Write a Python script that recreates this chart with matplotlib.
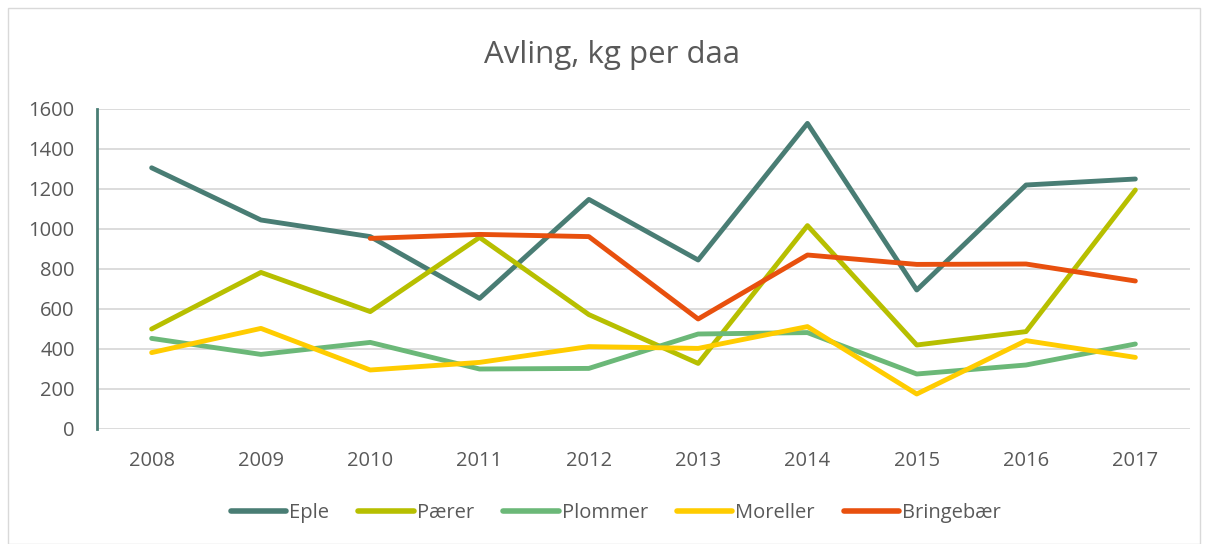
import matplotlib
matplotlib.use("Agg")
import matplotlib.pyplot as plt
import numpy as np

years = ["2008", "2009", "2010", "2011", "2012", "2013", "2014", "2015", "2016", "2017"]
eple = [1306, 1045, 962, 653, 1148, 845, 1528, 695, 1220, 1250]
paerer = [500, 783, 587, 958, 572, 328, 1017, 420, 487, 1195]
plommer = [453, 373, 433, 300, 303, 475, 482, 275, 320, 425]
moreller = [382, 503, 295, 333, 412, 403, 512, 175, 442, 358]
bringebaer = [None, None, 953, 973, 962, 550, 870, 823, 825, 740]
series_names = ["Eple", "Pærer", "Plommer", "Moreller", "Bringebær"]
yticks = [0, 200, 400, 600, 800, 1000, 1200, 1400, 1600]

colors = ["#497D74", "#B7BF00", "#6BB878", "#FFCC00", "#E8500E"]
txt = "#595959"
plt.rcParams['font.family'] = ['Open Sans', 'DejaVu Sans']

W, H = 1208, 544
fig = plt.figure(figsize=(W / 100, H / 100), dpi=100)
# outer chart border
fig.patches.append(plt.Rectangle((8 / W, 0), (1200 - 8) / W, (544 - 8) / H, transform=fig.transFigure,
                                 fill=False, edgecolor="#d9d9d9", linewidth=1))

left, right, top, bottom = 97, 1190, 109, 429
ax = fig.add_axes([left / W, 1 - bottom / H, (right - left) / W, (bottom - top) / H])
x = np.arange(len(years))
data = [eple, paerer, plommer, moreller, bringebaer]
for name, vals, c in zip(series_names, data, colors):
    v = np.array([np.nan if d is None else d for d in vals], dtype=float)
    ax.plot(x, v, color=c, lw=3.5, label=name, solid_capstyle='round', solid_joinstyle='round', zorder=3)

ax.set_xlim(-0.5, len(years) - 0.5)
ax.set_ylim(0, 1600)
ax.set_yticks(yticks)
ax.set_xticks(x)
ax.set_xticklabels(years)
ax.grid(axis='y', color="#d9d9d9", lw=1.3, zorder=0)
ax.set_axisbelow(True)
for s in ["top", "right", "bottom"]:
    ax.spines[s].set_visible(False)
ax.spines["left"].set_color("#497D74")
ax.spines["left"].set_linewidth(2)
ax.tick_params(axis='both', length=0, labelsize=14.5, colors=txt)
ax.tick_params(axis='y', pad=16)
ax.tick_params(axis='x', pad=16)

fig.text(612 / W, 1 - 55 / H, "Avling, kg per daa", ha='center', va='center', fontsize=22.5, color=txt)

handles, labels = ax.get_legend_handles_labels()
leg = fig.legend(handles, labels, loc='center', bbox_to_anchor=(616 / W, 1 - 513 / H), ncol=5,
                 frameon=False, fontsize=14.5, handlelength=2.75, handletextpad=0.15, columnspacing=1.45,
                 labelcolor=txt)
for l in leg.get_lines():
    l.set_linewidth(4)
    l.set_solid_capstyle('round')

fig.savefig("out.png", dpi=100)
